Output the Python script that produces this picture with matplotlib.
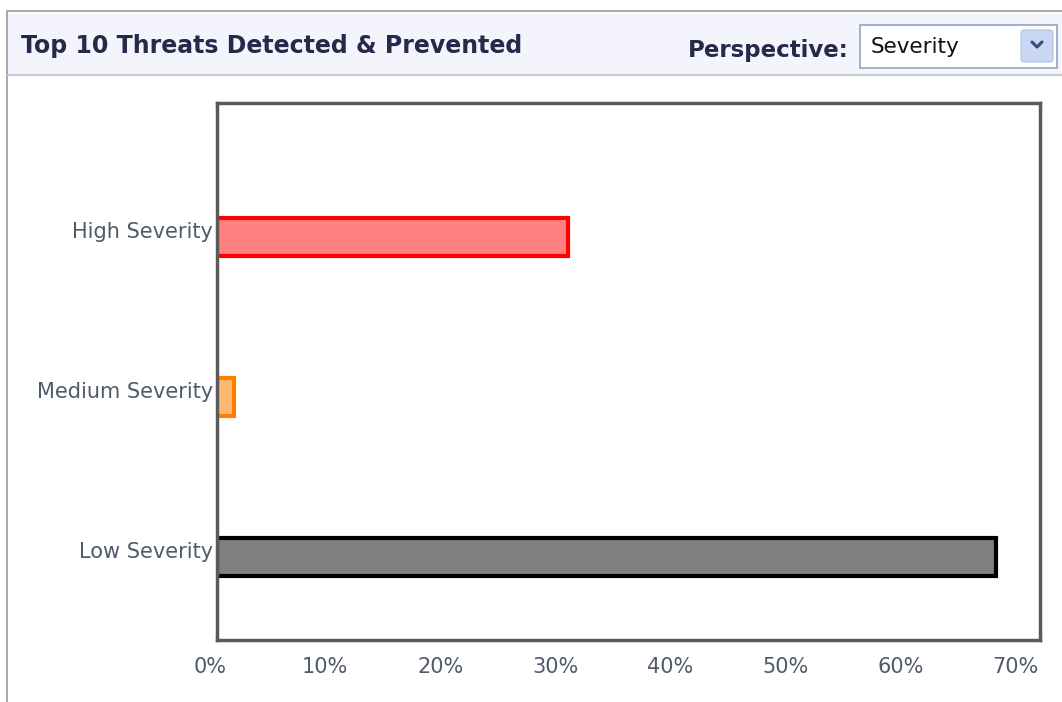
import matplotlib
matplotlib.use("Agg")
import matplotlib.pyplot as plt
import matplotlib.transforms as mtransforms
from matplotlib.patches import Rectangle, FancyBboxPatch

categories = ["Low Severity", "Medium Severity", "High Severity"]
values = [67.7, 1.5, 30.5]
face_colors = ["#808080", "#ffb870", "#ff8080"]
edge_colors = ["#000000", "#ff8000", "#ff0000"]
tick_vals = [0, 10, 20, 30, 40, 50, 60, 70]
tick_labels = ["%d%%" % t for t in tick_vals]

plt.rcParams["font.family"] = ["DejaVu Sans"]

W, H = 1062, 702
fig = plt.figure(figsize=(W / 100, H / 100), dpi=100)

# panel frame and header band, drawn in pixel coords
bg = fig.add_axes([0, 0, 1, 1])
bg.set_xlim(0, W)
bg.set_ylim(H, 0)
bg.axis("off")
bg.add_patch(Rectangle((7, 11), W, H, facecolor="white", edgecolor="#9a9a9a", lw=1.2))
bg.add_patch(Rectangle((8, 13), W, 62, facecolor="#f4f5fc", edgecolor="none"))
bg.plot([8, W], [75, 75], color="#c8c8d4", lw=1.5)
bg.text(21, 46, "Top 10 Threats Detected & Prevented", fontsize=17, fontweight="bold",
        color="#27284a", va="center", ha="left")
bg.text(849, 51, "Perspective:", fontsize=16.5, fontweight="bold",
        color="#27284a", va="center", ha="right")
bg.add_patch(Rectangle((860, 25), 197, 43, facecolor="white", edgecolor="#8fa4c4", lw=1.2))
bg.text(871, 47, "Severity", fontsize=15.5, color="#111111", va="center", ha="left")
bg.add_patch(FancyBboxPatch((1021, 30), 32, 32, boxstyle="round,pad=0,rounding_size=3",
                            facecolor="#c9d7f5", edgecolor="#b0c0e0", lw=0.8))
bg.plot([1032, 1037, 1042], [42, 47, 42], color="#3a4a7a", lw=2.2, solid_capstyle="round")

# chart axes
x0, x1, y0, y1 = 217, 1040, 103, 640
ax = fig.add_axes([x0 / W, 1 - y1 / H, (x1 - x0) / W, (y1 - y0) / H])
ypos = list(range(len(categories)))
ax.barh(ypos, values, height=0.24, color=face_colors, edgecolor=edge_colors, linewidth=3)
ax.set_xlim(0, 71.5)
ax.set_ylim(-0.52, 2.84)
ax.set_yticks(ypos)
ax.set_yticklabels(categories, fontsize=15, color="#505a6a")
ax.set_xticks(tick_vals)
ax.set_xticklabels(tick_labels, fontsize=15, color="#505a6a")
ax.tick_params(length=0)
ax.tick_params(axis="y", pad=3)
ax.tick_params(axis="x", pad=12)
for s in ax.spines.values():
    s.set_color("#5a5a5a")
    s.set_linewidth(2.5)

# labels sit a little left / above their ticks in the original
dx = mtransforms.ScaledTranslation(-7 / 100, 0, fig.dpi_scale_trans)
dy = mtransforms.ScaledTranslation(0, 7 / 100, fig.dpi_scale_trans)
for lbl in ax.get_xticklabels():
    lbl.set_transform(lbl.get_transform() + dx)
for lbl in ax.get_yticklabels():
    lbl.set_transform(lbl.get_transform() + dy)

fig.savefig("out.png", dpi=100)
